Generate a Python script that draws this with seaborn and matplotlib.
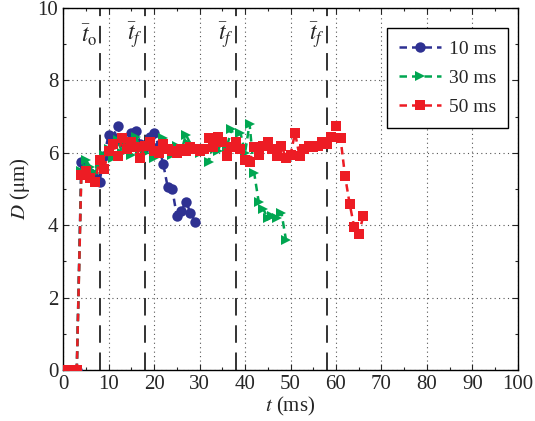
import numpy as np
import pandas as pd
import seaborn as sns
import matplotlib
matplotlib.use("Agg")
import matplotlib.pyplot as plt
from matplotlib.ticker import MultipleLocator

# ---- data ----
t10 = [0, 1, 2, 3, 4, 5, 6, 7, 8, 9, 10, 11, 12, 13, 14, 15, 16, 17, 18, 19,
       20, 21, 22, 23, 24, 25, 26, 27, 28, 29]
d10 = [0, 0, 0, 0, 5.75, 5.55, 5.45, 5.3, 5.2, 5.9, 6.5, 6.45, 6.75, 6.3, 6.2,
       6.55, 6.6, 6.25, 6.15, 6.45, 6.55, 6.2, 5.7, 5.05, 5.0, 4.25, 4.4, 4.65,
       4.35, 4.1]

t30 = [0, 1, 2, 3, 4, 5, 6, 7, 8, 9, 10, 11, 12, 13, 14, 15, 16, 17, 18, 19,
       20, 21, 22, 23, 24, 25, 26, 27, 28, 29, 30, 31, 32, 33, 34, 35, 36, 37,
       38, 39, 40, 41, 42, 43, 44, 45, 46, 47, 48, 49]
d30 = [0, 0, 0, 0, 5.5, 5.8, 5.6, 5.45, 5.7, 5.95, 6.1, 5.85, 6.35, 6.0, 6.25,
       5.95, 6.45, 6.1, 6.0, 6.3, 5.85, 6.0, 6.4, 6.1, 5.95, 6.2, 6.05, 6.5,
       6.25, 6.15, 6.0, 6.1, 5.75, 6.2, 6.05, 6.35, 6.15, 6.65, 6.3, 6.55, 6.0,
       6.8, 5.45, 4.65, 4.45, 4.2, 4.25, 4.2, 4.35, 3.6]

t50 = [0, 1, 2, 3, 4, 5, 6, 7, 8, 9, 10, 11, 12, 13, 14, 15, 16, 17, 18, 19,
       20, 21, 22, 23, 24, 25, 26, 27, 28, 29, 30, 31, 32, 33, 34, 35, 36, 37,
       38, 39, 40, 41, 42, 43, 44, 45, 46, 47, 48, 49, 50, 51, 52, 53, 54, 55,
       56, 57, 58, 59, 60, 61, 62, 63, 64, 65, 66]
d50 = [0, 0, 0, 0, 5.4, 5.5, 5.3, 5.2, 5.8, 5.55, 6.05, 6.25, 5.9, 6.4, 6.1,
       6.3, 6.15, 5.85, 6.2, 6.3, 6.05, 6.0, 6.25, 6.1, 6.05, 6.0, 6.1, 6.05,
       6.15, 6.1, 6.05, 6.1, 6.4, 6.15, 6.45, 6.3, 5.9, 6.15, 6.3, 6.1, 5.8,
       5.75, 6.15, 5.95, 6.2, 6.3, 6.1, 5.9, 6.2, 5.85, 5.95, 6.55, 5.9, 6.1,
       6.2, 6.15, 6.2, 6.3, 6.25, 6.45, 6.75, 6.4, 5.35, 4.6, 3.95, 3.75, 4.25]

labels = ["10 ms", "30 ms", "50 ms"]
colors = ["#2E3192", "#00A651", "#ED1C24"]
markers = ["o", ">", "s"]

event_t = [8, 18, 38, 58]
event_labels = [r"$\bar{t}_\mathrm{o}$", r"$\bar{t}_f$", r"$\bar{t}_f$", r"$\bar{t}_f$"]

# ---- plot ----
sns.set_style("ticks")
plt.rcParams["font.family"] = ["Liberation Serif", "DejaVu Serif"]
plt.rcParams["mathtext.fontset"] = "stix"

fig = plt.figure(figsize=(5.35, 4.21), dpi=100)
ax = fig.add_axes([0.118, 0.121, 0.850, 0.860])

series = [(t10, d10), (t30, d30), (t50, d50)]
for (tt, dd), lab, c, m in zip(series, labels, colors, markers):
    df = pd.DataFrame({"t": tt, "D": dd})
    sns.lineplot(data=df, x="t", y="D", ax=ax, color=c, marker=m,
                 markersize=7.5, markeredgewidth=0, linestyle=(0, (3, 2)),
                 linewidth=1.8, estimator=None, sort=False, label=lab,
                 zorder=3)

for x, lab in zip(event_t, event_labels):
    ax.axvline(x, color="#333333", linestyle=(0, (9, 5)), linewidth=1.4,
               zorder=2)
    ax.text(x - 2.2, 9.25, lab, fontsize=17, ha="center", va="center",
            zorder=4)

ax.set_xlim(0, 100)
ax.set_ylim(0, 10)
ax.xaxis.set_major_locator(MultipleLocator(10))
ax.xaxis.set_minor_locator(MultipleLocator(5))
ax.yaxis.set_major_locator(MultipleLocator(2))
ax.yaxis.set_minor_locator(MultipleLocator(1))
ax.grid(True, which="major", linestyle=(0, (1, 3)), color="#555555",
        linewidth=0.8)
ax.tick_params(which="both", direction="in", top=True, right=True,
               labelsize=15, width=0.8)
ax.tick_params(which="major", length=4)
ax.tick_params(which="minor", length=2.5)
for s in ax.spines.values():
    s.set_linewidth(1.0)
    s.set_color("black")

ax.set_xlabel(r"$t$ (ms)", fontsize=15, labelpad=1)
ax.set_ylabel(r"$D$ ($\mathrm{\mu}$m)", fontsize=15, labelpad=4)

leg = ax.legend(loc="upper right", bbox_to_anchor=(0.992, 0.96),
                fontsize=14, frameon=True, fancybox=False, edgecolor="black",
                framealpha=1, handlelength=2.2, borderpad=0.6,
                labelspacing=0.6, handletextpad=0.4, borderaxespad=0.3)
leg.get_frame().set_linewidth(1.0)

fig.savefig("out.png", dpi=100)
